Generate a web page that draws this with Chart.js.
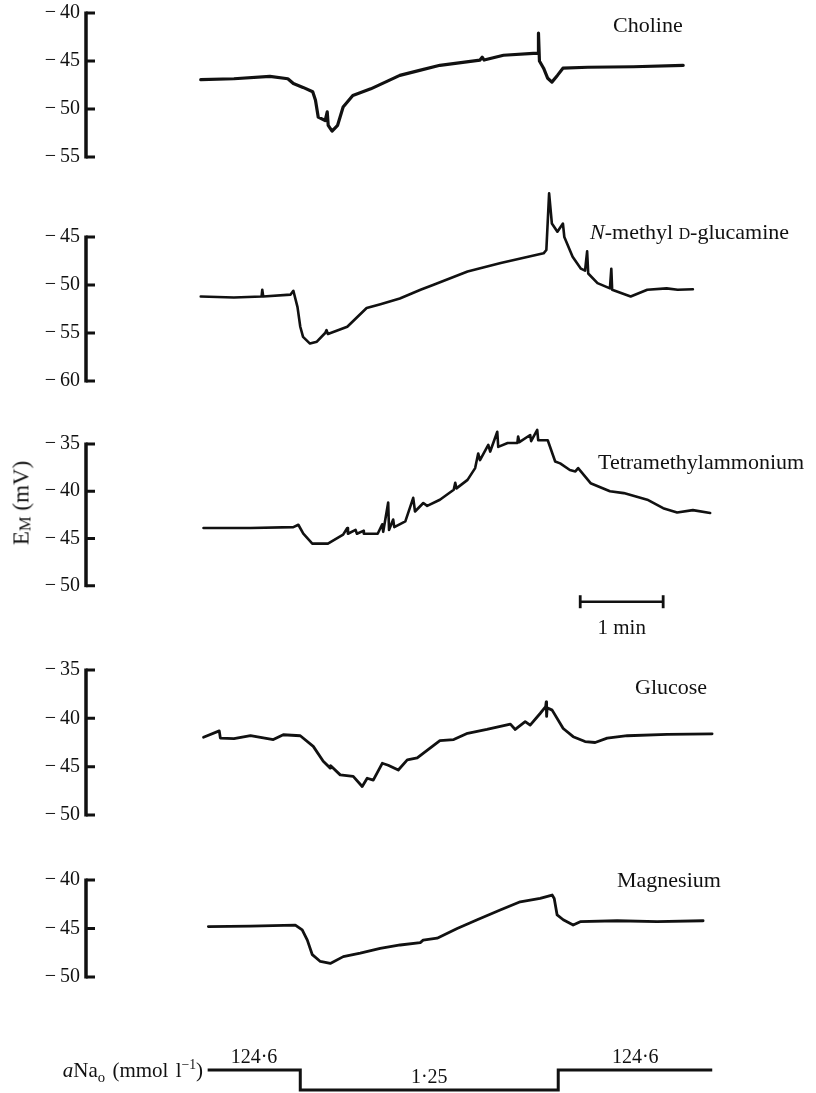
<!DOCTYPE html>
<html>
<head>
<meta charset="utf-8">
<script src="https://cdn.jsdelivr.net/npm/chart.js@4.4.1/dist/chart.umd.min.js"></script>
<style>
  body { margin: 0; background: #fff; }
  #fig { position: relative; width: 816px; height: 1093px; overflow: hidden; background: #fff; }
  #fig canvas { position: absolute; left: 0; }
  .lbl { position: absolute; font-family: 'Liberation Serif', 'DejaVu Serif', serif; font-size: 22px; line-height: 1; color: #111; white-space: nowrap; }
  .sc { font-size: 0.72em; }
</style>
</head>
<body>
<div id="fig">
  <div class="lbl" style="left:613px; top:14px">Choline</div>
  <div class="lbl" style="left:590px; top:221px"><i>N</i>-methyl <span class="sc">D</span>-glucamine</div>
  <div class="lbl" style="left:598px; top:451px">Tetramethylammonium</div>
  <div class="lbl" style="left:635px; top:676px">Glucose</div>
  <div class="lbl" style="left:617px; top:869px">Magnesium</div>
  <div class="lbl" style="left:22px; top:503px; font-size:23px; transform:translate(-50%,-50%) rotate(-90deg)">E<sub class="sc" style="vertical-align:-0.15em">M</sub> (mV)</div>
  <div class="lbl" style="right:613px; top:1058px; font-size:21px; word-spacing:2px"><i>a</i>Na<sub style="font-size:0.7em">o</sub> (mmol l<sup style="font-size:0.65em">&minus;1</sup>)</div>
</div>

<script>
const INK = '#111';
const SERIF = "'Liberation Serif', 'DejaVu Serif', serif";
Chart.defaults.font.family = SERIF;
Chart.defaults.color = INK;

// time in seconds, 0 = switch to low sodium
const T_MIN = -155;
const T_MAX = 300;

// Choline
const cholineTime = [-72, -48, -22, -9, -5, 2, 9, 11, 13, 18, 19.5, 20.2, 23, 27, 31, 38, 51, 72, 87, 101, 130, 131.6, 133, 147, 168.5, 172, 172.3, 173, 176, 179, 182, 186, 190, 208, 241, 277];
const cholineMv = [-46.95, -46.85, -46.6, -46.85, -47.35, -47.75, -48.2, -49.1, -50.85, -51.2, -50.3, -51.7, -52.3, -51.7, -49.8, -48.6, -47.9, -46.5, -45.95, -45.45, -44.9, -44.6, -44.9, -44.4, -44.2, -44.2, -42.1, -45.0, -45.75, -46.8, -47.2, -46.5, -45.75, -45.65, -45.6, -45.45];

// N-methyl D-glucamine
const nmdgTime = [-72, -48, -28, -27.5, -26.8, -7, -5, -2, 0, 2, 7, 12, 18, 19, 20, 34, 48, 58, 72, 87, 96, 121, 145, 176, 178, 180, 182, 186, 190, 191, 197, 203, 206, 207.5, 208.3, 215, 224, 225, 225.6, 239, 251, 265, 273, 284];
const nmdgMv = [-51.2, -51.3, -51.2, -50.5, -51.2, -51.0, -50.6, -52.3, -54.35, -55.4, -56.1, -55.9, -55.0, -54.7, -55.1, -54.35, -52.4, -52.0, -51.4, -50.5, -50.0, -48.6, -47.7, -46.7, -46.35, -40.45, -43.6, -44.45, -43.6, -45.0, -47.05, -48.3, -48.5, -46.5, -48.8, -49.8, -50.35, -48.3, -50.5, -51.2, -50.5, -50.35, -50.5, -50.45];

// Tetramethylammonium
const tmaTime = [-70, -36, -5, -1.4, 2.2, 8.7, 20, 31, 34, 34.5, 40, 41, 45.6, 46, 56, 59.3, 60, 63.6, 64.2, 67.2, 68, 76, 81.7, 83, 89, 91.8, 101, 111, 112.1, 113, 121, 126.5, 128.7, 130, 136, 137.4, 142.5, 143.2, 150, 157, 157.6, 158.5, 166.3, 167, 171.4, 172.1, 179, 184.4, 188, 195, 199, 201, 210, 224, 234, 251, 262.5, 272.6, 284, 296.5];
const tmaMv = [-43.9, -43.9, -43.8, -43.55, -44.5, -45.55, -45.55, -44.6, -43.9, -44.5, -44.1, -44.5, -44.2, -44.5, -44.5, -43.5, -44.3, -41.2, -44.1, -43.0, -43.8, -43.2, -40.7, -42.15, -41.25, -41.55, -40.9, -39.85, -39.1, -39.7, -38.8, -37.55, -36.0, -36.7, -35.1, -35.8, -33.7, -35.3, -34.9, -34.9, -34.2, -34.8, -34.05, -34.7, -33.5, -34.6, -34.6, -36.85, -37.05, -37.75, -37.9, -37.55, -39.15, -40.0, -40.2, -40.9, -41.8, -42.25, -42.0, -42.3];

// Glucose
const glucoseTime = [-70, -58.6, -57.8, -48, -36, -19.5, -12.3, 0, 9.4, 16.6, 21.7, 22, 28.9, 38.3, 44.8, 48.4, 52.8, 59.3, 63.6, 70.9, 77.4, 84.6, 101, 111, 121, 135, 152, 155.5, 162.7, 166.3, 173.5, 177.5, 177.9, 178.2, 178.6, 182.2, 190.2, 197.4, 206, 213.3, 222, 236.5, 265.4, 297.9];
const glucoseMv = [-41.95, -41.3, -42.05, -42.1, -41.8, -42.2, -41.7, -41.8, -42.9, -44.45, -45.15, -44.9, -45.85, -46.0, -47.05, -46.2, -46.4, -44.65, -44.85, -45.35, -44.3, -44.1, -42.3, -42.2, -41.55, -41.15, -40.6, -41.15, -40.35, -40.7, -39.5, -38.8, -38.3, -39.8, -38.9, -39.15, -41.05, -41.9, -42.4, -42.5, -42.05, -41.8, -41.65, -41.6];

// Magnesium
const magnesiumTime = [-66.5, -36, -3.6, 1.4, 5.1, 8.7, 14.5, 21.7, 31.1, 43.4, 57.8, 72.3, 86.8, 88.9, 99, 113.5, 128, 144.6, 159.1, 173.5, 182.2, 183.7, 185.8, 190.2, 197.4, 202.5, 229.2, 258.1, 291.4];
const magnesiumMv = [-44.8, -44.75, -44.65, -45.15, -46.2, -47.7, -48.4, -48.6, -47.9, -47.55, -47.05, -46.7, -46.45, -46.2, -46.0, -45.0, -44.1, -43.1, -42.25, -41.9, -41.55, -41.9, -43.6, -44.1, -44.65, -44.3, -44.2, -44.3, -44.2];

// 1 min time bar under the TMA trace
const scaleBarTime = [202.5, 262.5];
const scaleBarMv = [-51.7, -51.7];

// external Na activity (mmol l-1)
const naTime = [-67, 0, 186.6, 298];
const naActivity = [124.6, 1.25, 124.6, 124.6];

const toPoints = (xs, ys) => xs.map((x, i) => ({ x: x, y: ys[i] }));
const fig = document.getElementById('fig');

// canvas whose plot area runs from areaTop to areaBottom on the page
function addCanvas(areaTop, areaBottom, padTop, padBottom) {
    const c = document.createElement('canvas');
    c.width = 816;
    c.height = areaBottom - areaTop + padTop + padBottom;
    c.style.top = (areaTop - padTop) + 'px';
    fig.insertBefore(c, fig.firstChild);
    return c;
}

// bracket-style y axis: thick spine spanning the ticks, inward tick marks
const bracketAxis = {
    id: 'bracketAxis',
    afterDraw(chart) {
        const y = chart.scales.y;
        if (!y.options.display || !y.ticks.length) return;
        const ctx = chart.ctx;
        const x0 = chart.chartArea.left;
        const vals = y.ticks.map(t => t.value);
        ctx.save();
        ctx.strokeStyle = INK;
        ctx.lineWidth = 3.5;
        ctx.beginPath();
        ctx.moveTo(x0, y.getPixelForValue(Math.max(...vals)) - 1.5);
        ctx.lineTo(x0, y.getPixelForValue(Math.min(...vals)) + 1.5);
        ctx.stroke();
        ctx.lineWidth = 3;
        ctx.beginPath();
        vals.forEach(v => {
            const py = y.getPixelForValue(v);
            ctx.moveTo(x0, py);
            ctx.lineTo(x0 + 9, py);
        });
        ctx.stroke();
        ctx.restore();
    }
};

// "1 min" under the time bar
const barLabel = {
    id: 'barLabel',
    afterDatasetsDraw(chart) {
        const meta = chart.getDatasetMeta(1);
        if (!meta || !meta.data.length) return;
        const a = meta.data[0], b = meta.data[1];
        const ctx = chart.ctx;
        ctx.save();
        ctx.fillStyle = INK;
        ctx.font = '21px ' + SERIF;
        ctx.textAlign = 'center';
        ctx.textBaseline = 'top';
        const mins = (scaleBarTime[1] - scaleBarTime[0]) / 60;
        ctx.fillText(mins + ' min', (a.x + b.x) / 2, a.y + 16);
        ctx.restore();
    }
};

// concentration written over each level of the step trace
const stepLabels = {
    id: 'stepLabels',
    afterDatasetsDraw(chart) {
        const pts = chart.getDatasetMeta(0).data;
        const ctx = chart.ctx;
        ctx.save();
        ctx.fillStyle = INK;
        ctx.font = '20px ' + SERIF;
        ctx.textAlign = 'center';
        ctx.textBaseline = 'alphabetic';
        for (let i = 0; i < pts.length - 1; i++) {
            const txt = String(naActivity[i]).replace('.', '\u00b7');
            const cx = (pts[i].x + pts[i + 1].x) / 2;
            ctx.fillText(txt, cx, pts[i].y - 7);
        }
        ctx.restore();
    }
};

function traceDataset(time, mv, width) {
    return {
        data: toPoints(time, mv),
        borderColor: INK,
        borderWidth: width,
        borderJoinStyle: 'round',
        borderCapStyle: 'round',
        pointRadius: 0,
        tension: 0,
        clip: false
    };
}

// tickMin/tickMax: labelled range; yMin may sit lower to leave room under the trace
function panelOptions(yMin, yMax, tickMin, padTop, padBottom) {
    return {
        responsive: false,
        animation: false,
        events: [],
        layout: { padding: { top: padTop, bottom: padBottom, left: 0, right: 101 } },
        plugins: { legend: { display: false }, tooltip: { enabled: false } },
        scales: {
            x: { type: 'linear', min: T_MIN, max: T_MAX, display: false },
            y: {
                type: 'linear',
                min: yMin,
                max: yMax,
                grid: { display: false, drawTicks: false },
                border: { display: false },
                ticks: {
                    stepSize: 5,
                    padding: 6,
                    color: INK,
                    font: { size: 20, family: SERIF },
                    callback: v => '\u2212\u2009' + Math.abs(v)
                },
                afterBuildTicks: s => {
                    s.ticks = s.ticks.filter(t => t.value >= tickMin && t.value % 5 === 0);
                },
                afterFit: s => {
                    s.width = 86;
                    s.paddingTop = 0;
                    s.paddingBottom = 0;
                }
            }
        }
    };
}

function makePanel(area, time, mv, range, width, extra) {
    const [top, bottom, padTop, padBottom] = area;
    const [yMin, yMax, tickMin] = range;
    const datasets = [traceDataset(time, mv, width)];
    const plugins = [bracketAxis];
    if (extra) {
        datasets.push(extra.dataset);
        plugins.push(extra.plugin);
    }
    return new Chart(addCanvas(top, bottom, padTop, padBottom), {
        type: 'line',
        data: { datasets: datasets },
        options: panelOptions(yMin, yMax, tickMin === undefined ? yMin : tickMin, padTop, padBottom),
        plugins: plugins
    });
}

makePanel([13, 157, 13, 13], cholineTime, cholineMv, [-55, -40], 3.2);
makePanel([237, 381, 50, 13], nmdgTime, nmdgMv, [-60, -45], 2.6);
makePanel([444, 614, 20, 30], tmaTime, tmaMv, [-53, -35, -50], 2.6, {
    dataset: {
        data: toPoints(scaleBarTime, scaleBarMv),
        borderColor: INK,
        borderWidth: 2.5,
        pointStyle: 'line',
        pointRotation: 90,
        pointRadius: 6.5,
        pointBorderWidth: 2.8,
        pointBorderColor: INK
    },
    plugin: barLabel
});
makePanel([670, 815, 13, 13], glucoseTime, glucoseMv, [-50, -35], 2.8);
makePanel([880, 977, 13, 13], magnesiumTime, magnesiumMv, [-50, -40], 2.8);

new Chart(addCanvas(1070, 1090, 30, 3), {
    type: 'line',
    data: {
        datasets: [{
            data: toPoints(naTime, naActivity),
            stepped: 'before',
            borderColor: INK,
            borderWidth: 3,
            pointRadius: 0,
            clip: false
        }]
    },
    options: {
        responsive: false,
        animation: false,
        events: [],
        layout: { padding: { top: 30, bottom: 3, left: 86, right: 101 } },
        plugins: { legend: { display: false }, tooltip: { enabled: false } },
        scales: {
            x: { type: 'linear', min: T_MIN, max: T_MAX, display: false },
            y: { type: 'logarithmic', min: 1.25, max: 124.6, display: false }
        }
    },
    plugins: [stepLabels]
});
</script>
</body>
</html>
